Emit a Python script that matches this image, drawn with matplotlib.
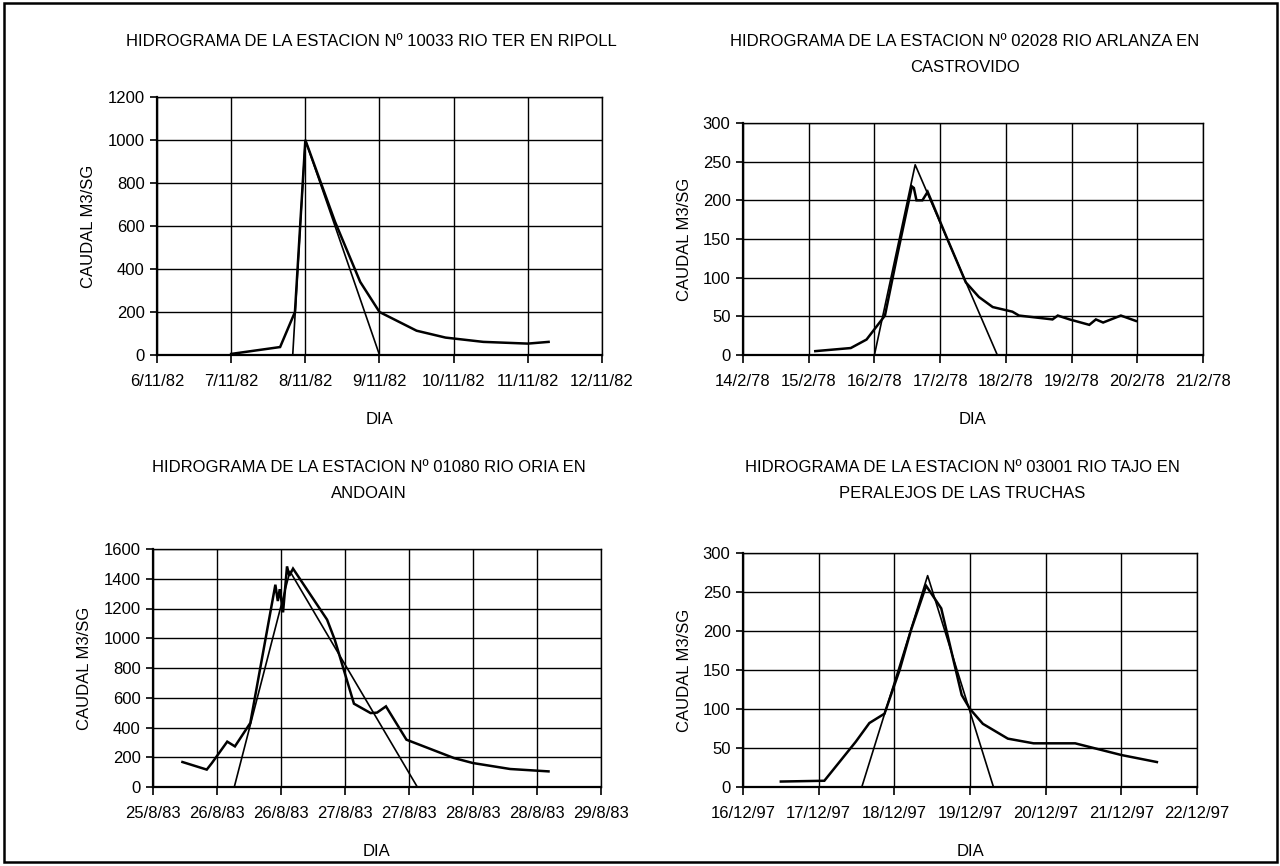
import matplotlib
matplotlib.use("Agg")
import matplotlib.pyplot as plt
from matplotlib.patches import Rectangle

plt.rcParams['font.family'] = ['Liberation Sans', 'DejaVu Sans']

W, H = 1280, 866
FS = 12

# ---------------- Panel 1: Rio Ter en Ripoll (Nov 1982) ----------------
p1_title = ["HIDROGRAMA DE LA ESTACION Nº 10033 RIO TER EN RIPOLL"]
p1_xticks = [6, 7, 8, 9, 10, 11, 12]
p1_xticklabels = ["6/11/82", "7/11/82", "8/11/82", "9/11/82", "10/11/82", "11/11/82", "12/11/82"]
p1_yticks = [0, 200, 400, 600, 800, 1000, 1200]
p1_obs_x = [7.0, 7.66, 7.86, 8.0, 8.4, 8.74, 9.0, 9.5, 9.89, 10.4, 11.0, 11.28]
p1_obs_y = [5, 37, 200, 1000, 620, 340, 200, 113, 81, 61, 53, 61]
p1_syn_x = [7.83, 8.0, 9.0]
p1_syn_y = [0, 1000, 0]

# ---------------- Panel 2: Rio Arlanza en Castrovido (Feb 1978) ----------------
p2_title = ["HIDROGRAMA DE LA ESTACION Nº 02028 RIO ARLANZA EN", "CASTROVIDO"]
p2_xticks = [14, 15, 16, 17, 18, 19, 20, 21]
p2_xticklabels = ["14/2/78", "15/2/78", "16/2/78", "17/2/78", "18/2/78", "19/2/78", "20/2/78", "21/2/78"]
p2_yticks = [0, 50, 100, 150, 200, 250, 300]
p2_obs_x = [15.1, 15.64, 15.88, 16.16, 16.35, 16.57, 16.60, 16.64, 16.73, 16.81, 17.1, 17.39,
            17.59, 17.80, 18.1, 18.2, 18.61, 18.71, 18.79, 18.97, 19.27, 19.37, 19.48, 19.75, 19.98]
p2_obs_y = [5, 9, 20, 51, 130, 218, 216, 200, 200, 211, 152, 94,
            75, 62, 56, 51, 47, 46, 51, 46, 39, 46, 42, 51, 44]
p2_syn_x = [16.0, 16.62, 17.87]
p2_syn_y = [0, 246, 0]

# ---------------- Panel 3: Rio Oria en Andoain (Aug 1983) ----------------
p3_title = ["HIDROGRAMA DE LA ESTACION Nº 01080 RIO ORIA EN", "ANDOAIN"]
p3_xticks = [25.5, 26.0, 26.5, 27.0, 27.5, 28.0, 28.5, 29.0]
p3_xticklabels = ["25/8/83", "26/8/83", "26/8/83", "27/8/83", "27/8/83", "28/8/83", "28/8/83", "29/8/83"]
p3_yticks = [0, 200, 400, 600, 800, 1000, 1200, 1400, 1600]
p3_obs_x = [25.73, 25.92, 25.96, 26.08, 26.14, 26.26, 26.456, 26.475, 26.49, 26.516, 26.547,
            26.565, 26.594, 26.86, 26.92, 27.07, 27.2, 27.25, 27.32, 27.48, 27.85, 28.0, 28.29, 28.59]
p3_obs_y = [168, 117, 161, 305, 273, 430, 1360, 1250, 1330, 1174, 1483,
            1420, 1468, 1125, 990, 560, 497, 500, 542, 318, 195, 161, 121, 105]
p3_syn_x = [26.135, 26.57, 27.565]
p3_syn_y = [0, 1450, 0]

# ---------------- Panel 4: Rio Tajo en Peralejos de las Truchas (Dec 1997) ----------------
p4_title = ["HIDROGRAMA DE LA ESTACION Nº 03001 RIO TAJO EN", "PERALEJOS DE LAS TRUCHAS"]
p4_xticks = [16, 17, 18, 19, 20, 21, 22]
p4_xticklabels = ["16/12/97", "17/12/97", "18/12/97", "19/12/97", "20/12/97", "21/12/97", "22/12/97"]
p4_yticks = [0, 50, 100, 150, 200, 250, 300]
p4_obs_x = [16.50, 17.075, 17.49, 17.67, 17.87, 18.07, 18.22, 18.42, 18.62, 18.89, 19.0,
            19.17, 19.5, 19.84, 20.39, 21.0, 21.47]
p4_obs_y = [7, 8, 58, 82, 94, 150, 201, 258, 229, 118, 100,
            81, 62, 56, 56, 41, 32]
p4_syn_x = [17.57, 18.44, 19.31]
p4_syn_y = [0, 271, 0]

fig = plt.figure(figsize=(W / 100, H / 100), dpi=100)
fig.patch.set_facecolor("white")


def add_axes_px(left, top, right, bottom):
    return fig.add_axes([left / W, 1 - bottom / H, (right - left) / W, (bottom - top) / H])


def setup(ax, xticks, xticklabels, yticks):
    ax.set_xlim(xticks[0], xticks[-1])
    ax.set_ylim(yticks[0], yticks[-1])
    ax.set_xticks(xticks)
    ax.set_xticklabels(xticklabels)
    ax.set_yticks(yticks)
    ax.grid(True, color="black", linewidth=1.0)
    ax.set_axisbelow(True)
    for s in ["left", "bottom"]:
        ax.spines[s].set_linewidth(1.6)
        ax.spines[s].set_color("black")
    for s in ["top", "right"]:
        ax.spines[s].set_linewidth(1.0)
        ax.spines[s].set_color("black")
    ax.tick_params(axis="x", direction="out", length=6, width=1.2, labelsize=FS, pad=8)
    ax.tick_params(axis="y", direction="out", length=5, width=1.2, labelsize=FS, pad=4)
    ax.set_xlabel("DIA", fontsize=FS, labelpad=16)
    ax.set_ylabel("CAUDAL M3/SG", fontsize=FS, labelpad=8)


def title(lines, xc, y0):
    for i, ln in enumerate(lines):
        fig.text(xc / W, 1 - (y0 + 26 * i) / H, ln, ha="center", va="center", fontsize=FS)


panels = [
    ((157, 97, 602, 355), p1_xticks, p1_xticklabels, p1_yticks, p1_obs_x, p1_obs_y, p1_syn_x, p1_syn_y, p1_title, 41),
    ((743, 123, 1203, 355), p2_xticks, p2_xticklabels, p2_yticks, p2_obs_x, p2_obs_y, p2_syn_x, p2_syn_y, p2_title, 41),
    ((153, 549, 601, 787), p3_xticks, p3_xticklabels, p3_yticks, p3_obs_x, p3_obs_y, p3_syn_x, p3_syn_y, p3_title, 467),
    ((743, 553, 1197, 787), p4_xticks, p4_xticklabels, p4_yticks, p4_obs_x, p4_obs_y, p4_syn_x, p4_syn_y, p4_title, 467),
]

for box, xt, xtl, yt, ox, oy, sx, sy, ttl, ty in panels:
    ax = add_axes_px(*box)
    setup(ax, xt, xtl, yt)
    ax.plot(ox, oy, color="black", linewidth=1.8, solid_joinstyle="miter")
    ax.plot(sx, sy, color="black", linewidth=1.2)
    title(ttl, (box[0] + box[2]) / 2 - 8, ty)

# outer frame
fig.patches.append(Rectangle((4 / W, 1 - 862 / H), 1273 / W, 859 / H, transform=fig.transFigure,
                             fill=False, edgecolor="black", linewidth=1.8))

fig.savefig("out.png", dpi=100)
